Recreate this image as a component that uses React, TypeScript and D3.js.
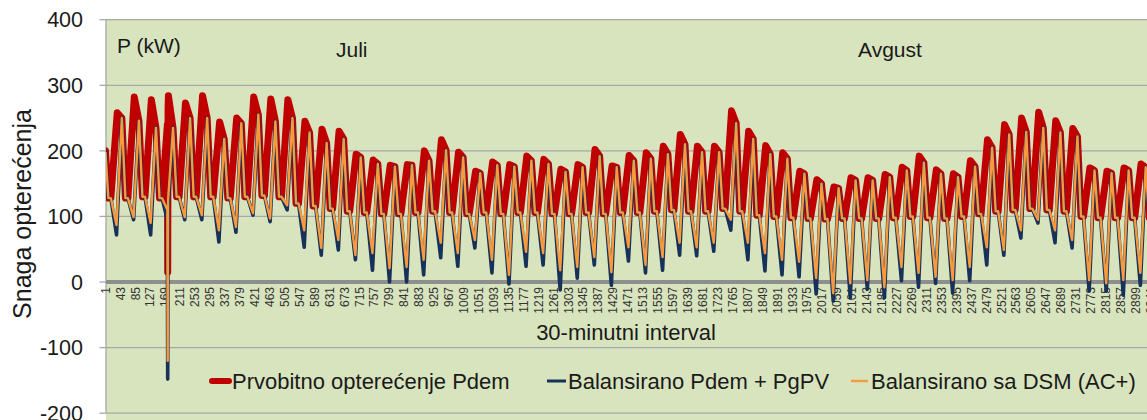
import React from "react";
import * as d3 from "d3";

const W = 1147;
const H = 420;
const PER_DAY = 48;

// Daily readings (kW), one value per day, July 1 .. Aug 31
const redPeak = [258,282,278,284,273,284,244,250,282,279,278,245,233,230,195,186,178,179,200,217,198,169,183,179,192,187,172,179,202,177,193,197,207,225,207,207,261,230,208,197,169,156,145,159,159,164,175,192,171,165,185,217,240,250,259,246,234,174,169,174,180,178];
const redBase = [128,128,130,128,130,130,130,128,130,132,130,120,116,112,108,106,104,104,106,108,106,104,106,104,106,106,104,104,106,104,106,106,108,110,108,108,112,108,102,100,98,97,96,97,97,97,98,100,98,97,100,104,108,110,112,110,108,100,98,98,98,98];
const eveningPeak = [250,246,235,235,250,250,218,242,255,245,250,228,212,218,190,180,176,178,185,201,190,166,178,176,185,180,168,175,192,175,185,188,195,210,198,198,242,218,195,188,165,150,143,155,155,160,170,182,165,160,176,205,225,229,235,228,222,170,166,170,175,172];
const navyDip = [72,95,72,95,95,95,61,76,102,92,110,53,41,49,34,18,0,0,11,37,24,52,14,-3,24,26,-12,6,26,-5,32,14,18,41,40,47,79,34,17,11,8,-18,-29,-24,-11,-24,2,-8,-2,-17,2,26,41,67,90,60,52,-14,-14,-20,-5,-5];
const orangeDip = [87,99,90,105,99,102,79,84,105,97,117,79,52,64,41,44,21,23,34,60,44,64,34,11,46,44,18,23,38,15,53,26,38,60,53,60,95,60,44,34,31,6,-17,-2,3,-8,23,14,8,3,23,53,49,79,95,79,64,3,-2,3,14,10];

// first reading of each series at interval 1
const startRed = 200;
const startNavy = 200;
const startOrange = 198;

// one-off drop on day 4
const spikeDay = 3;
const spikeSlots = [30, 31, 32];
const redSpike = [240, 15, 265];
const navySpike = [95, -148, 110];
const orangeSpike = [110, -120, 125];

const yTicks = [400, 300, 200, 100, 0, -100, -200];
const xTickLabels = d3.range(1, 2977, 42);
const months = ["Juli", "Avgust"];
const legendLabels = ["Prvobitno opterećenje Pdem", "Balansirano Pdem + PgPV", "Balansirano sa DSM (AC+)"];

// within-day slots (half-hour index) where the readings apply
const SLOT_BASE_A = 8;
const SLOT_BASE_B = 15;
const SLOT_DIP = 31;
const SLOT_PEAK = 33;
const SLOT_EVE = 46;

type Pt = [number, number];

function buildSeries(kind: "red" | "navy" | "orange"): Pt[] {
  const start = kind === "red" ? startRed : kind === "navy" ? startNavy : startOrange;
  let pts: Pt[] = [[1, start]];
  for (let d = 0; d < redPeak.length; d++) {
    const o = d * PER_DAY + 1;
    pts.push([o + SLOT_BASE_A, redBase[d]]);
    pts.push([o + SLOT_BASE_B, redBase[d]]);
    if (kind === "red") {
      pts.push([o + SLOT_PEAK, redPeak[d]]);
    } else {
      pts.push([o + SLOT_DIP, kind === "navy" ? navyDip[d] : orangeDip[d]]);
    }
    pts.push([o + SLOT_EVE, eveningPeak[d]]);
  }
  const sp = kind === "red" ? redSpike : kind === "navy" ? navySpike : orangeSpike;
  const so = spikeDay * PER_DAY + 1;
  const spikeIdx = spikeSlots.map((s) => so + s);
  pts = pts.filter((p) => !spikeIdx.includes(p[0]));
  spikeIdx.forEach((ix, i) => pts.push([ix, sp[i]]));
  pts.sort((a, b) => a[0] - b[0]);
  return pts;
}

const PLOT_L = 106;
const PLOT_T = 19.7;

export default function App() {
  const x = d3.scaleLinear().domain([1, 2976]).range([105.5, 105.5 + 2975 * 0.3555]);
  const y = d3.scaleLinear().domain([-200, 400]).range([413.2, 19.7]);
  const line = d3
    .line<Pt>()
    .x((p) => x(p[0]))
    .y((p) => y(p[1]));

  const red = buildSeries("red");
  const navy = buildSeries("navy");
  const orange = buildSeries("orange");

  const font = "'Liberation Sans', Arial, sans-serif";
  const txt = "#1a1a1a";

  return (
    <svg
      width={W}
      height={H}
      style={{ position: "absolute", left: 0, top: 0, background: "#fff", fontFamily: font }}
    >
      <defs>
        <clipPath id="plotClip">
          <rect x={PLOT_L} y={PLOT_T} width={W - PLOT_L} height={H - PLOT_T} />
        </clipPath>
      </defs>
      <rect x={PLOT_L} y={PLOT_T} width={W - PLOT_L} height={H - PLOT_T} fill="#d8e4be" />
      {yTicks
        .filter((t) => t !== 0)
        .map((t) => (
          <line key={t} x1={PLOT_L} x2={W} y1={y(t)} y2={y(t)} stroke="#a8a8a8" strokeWidth={1.3} />
        ))}
      <line x1={PLOT_L} x2={PLOT_L} y1={PLOT_T} y2={y(-200)} stroke="#a8a8a8" strokeWidth={1.3} />
      {yTicks.map((t) => (
        <g key={t}>
          <line x1={99.5} x2={PLOT_L} y1={y(t)} y2={y(t)} stroke="#a8a8a8" strokeWidth={1.3} />
          <text x={83} y={y(t)} dy="0.36em" textAnchor="end" fontSize={21.5} fill={txt}>
            {t}
          </text>
        </g>
      ))}
      <line x1={PLOT_L} x2={W} y1={y(0)} y2={y(0)} stroke="#8e8e8e" strokeWidth={4} />
      {xTickLabels.map((v) => (
        <text
          key={v}
          transform={`translate(${x(v) + 4.2},287) rotate(-90)`}
          textAnchor="end"
          fontSize={12}
          fill="#333"
        >
          {v}
        </text>
      ))}
      <g clipPath="url(#plotClip)">
        <path d={line(red) || ""} fill="none" stroke="#c00000" strokeWidth={7} strokeLinejoin="round" strokeLinecap="round" />
        <path d={line(navy) || ""} fill="none" stroke="#17325a" strokeWidth={3.6} strokeLinejoin="round" />
        <path d={line(orange) || ""} fill="none" stroke="#f79a3e" strokeWidth={2.4} strokeLinejoin="round" />
      </g>
      <text x={117} y={53} fontSize={21} fill={txt}>P (kW)</text>
      <text x={336} y={57} fontSize={21} fill={txt}>{months[0]}</text>
      <text x={858} y={57} fontSize={21} fill={txt}>{months[1]}</text>
      <text x={626} y={340} fontSize={22} textAnchor="middle" fill={txt}>30-minutni interval</text>
      <text transform="translate(31,214) rotate(-90)" fontSize={25} textAnchor="middle" fill={txt}>
        Snaga opterećenja
      </text>
      <line x1={212} x2={229} y1={381} y2={381} stroke="#c00000" strokeWidth={6} strokeLinecap="round" />
      <text x={232} y={389} fontSize={22} fill={txt}>{legendLabels[0]}</text>
      <line x1={547} x2={566} y1={381} y2={381} stroke="#17325a" strokeWidth={3} />
      <text x={568} y={389} fontSize={22} fill={txt}>{legendLabels[1]}</text>
      <line x1={851} x2={868} y1={381} y2={381} stroke="#f79a3e" strokeWidth={2.4} />
      <text x={871} y={389} fontSize={22} fill={txt}>{legendLabels[2]}</text>
    </svg>
  );
}
